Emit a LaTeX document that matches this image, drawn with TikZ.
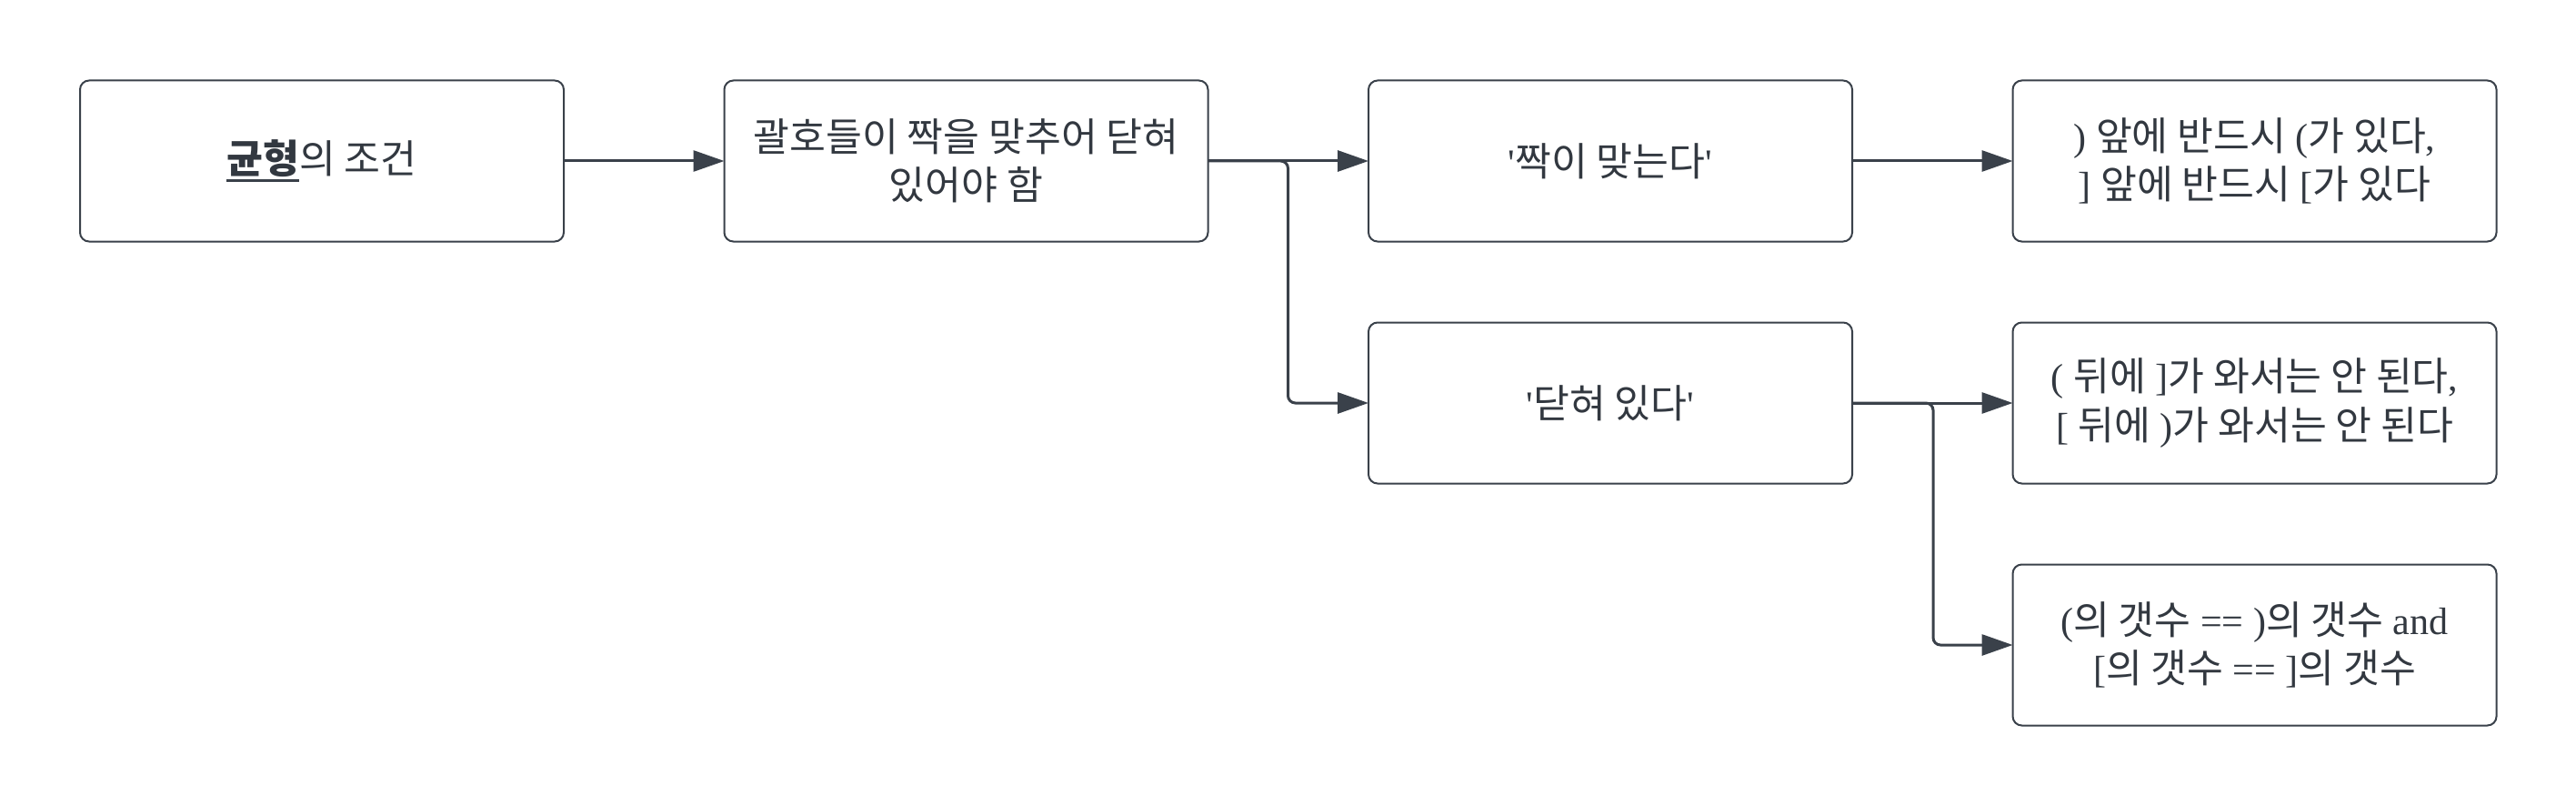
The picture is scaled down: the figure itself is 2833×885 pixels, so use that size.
\documentclass[tikz,border=0pt]{standalone}
\usepackage{fontspec}
\setmainfont{Liberation Serif}[Ligatures=TeXOff,Scale=0.97]
\newfontfamily\kr{Noto Sans CJK KR}
\usetikzlibrary{arrows.meta}
\definecolor{ln}{RGB}{58,65,74}
\definecolor{tx}{RGB}{50,56,64}
\newcommand\K[1]{{\kr #1}}
\newcommand\myul[1]{\setbox0\hbox{#1}\rlap{\color{ln}\rule[-2.7pt]{\wd0}{1pt}}\box0}
\tikzset{
  box/.style={draw=ln, line width=0.6pt, fill=white, rounded corners=3pt,
    minimum width=159.6pt, minimum height=53.1pt, inner sep=0pt, outer sep=0pt,
    align=center, text=tx, font=\fontsize{13}{16}\selectfont},
  conn/.style={draw=ln, line width=0.9pt, -{Triangle[length=10.2pt,width=6.9pt]}},
}
\begin{document}
\begin{tikzpicture}[x=0.3pt,y=-0.3pt]
\useasboundingbox[fill=white] (0,0) rectangle (2833,885);
\node[box] (b1) at (354,177) {\myul{\K{\bfseries 균형}}\K{의 조건}};
\node[box] (b2) at (1062.5,177) {\K{괄호들이 짝을 맞추어 닫혀}\\\K{있어야 함}};
\node[box] (b3) at (1771,177) {'\K{짝이 맞는다}'};
\node[box] (b4) at (2479.5,177) {) \K{앞에 반드시} (\K{가 있다},\\] \K{앞에 반드시} [\K{가 있다}};
\node[box] (c3) at (1771,443) {'\K{닫혀 있다}'};
\node[box] (c4) at (2479.5,443) {( \K{뒤에} ]\K{가 와서는 안 된다},\\{}[ \K{뒤에} )\K{가 와서는 안 된다}};
\node[box] (d4) at (2479.5,709) {(\K{의 갯수} == )\K{의 갯수} and\\{}[\K{의 갯수} == ]\K{의 갯수}};
\draw[conn] (b1.east) -- (b2.west);
\draw[conn] (b2.east) -- (b3.west);
\draw[conn] (b3.east) -- (b4.west);
\draw[conn] (c3.east) -- (c4.west);
\draw[conn, rounded corners=2.4pt] (b2.east) -- ++(88,0) |- (c3.west);
\draw[conn, rounded corners=2.4pt] (c3.east) -- ++(89,0) |- (d4.west);
\end{tikzpicture}
\end{document}
